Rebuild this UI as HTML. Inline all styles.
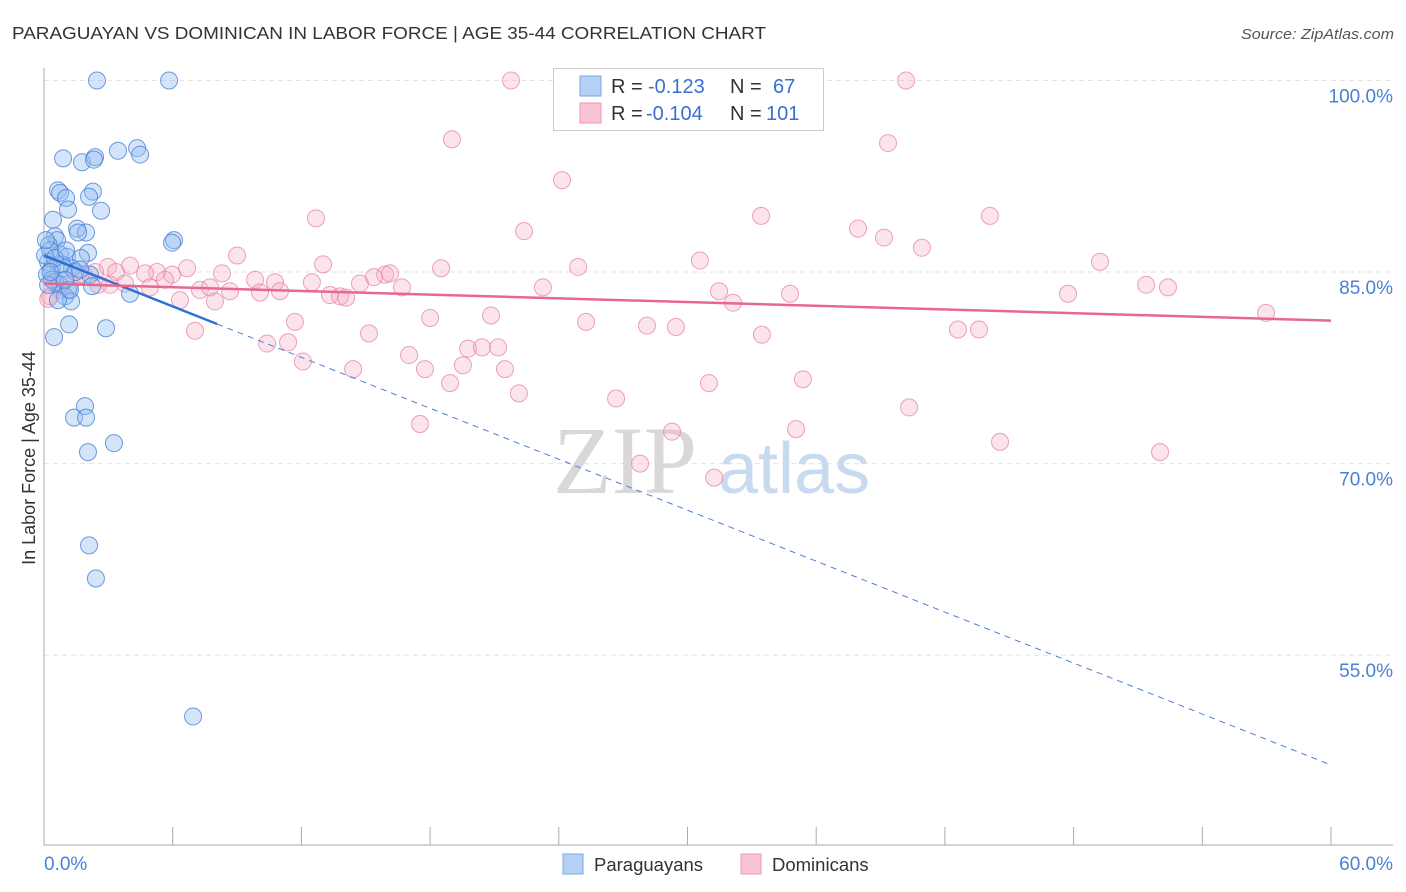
<!DOCTYPE html>
<html><head><meta charset="utf-8"><style>
body{margin:0;background:#fff;}
svg{display:block;font-family:"Liberation Sans",sans-serif;}
</style></head><body>
<svg id="chart" width="1406" height="892" viewBox="0 0 1406 892">
<text x="12" y="39" font-size="17.5" fill="#333" textLength="754" lengthAdjust="spacingAndGlyphs">PARAGUAYAN VS DOMINICAN IN LABOR FORCE | AGE 35-44 CORRELATION CHART</text>
<text x="1394" y="39" font-size="15" fill="#555" font-style="italic" text-anchor="end" textLength="153" lengthAdjust="spacingAndGlyphs">Source: ZipAtlas.com</text>
<g id="grid"></g>
<g>
<text x="553" y="493" font-size="96" font-family="Liberation Serif,serif" fill="#d8d8d8">ZIP</text>
<text x="718" y="493" font-size="72" fill="#c8daf0">atlas</text>
</g>
<g id="axes"></g>
<g id="pts"></g>
<g id="trends"></g>
<text x="35" y="458" font-size="18" fill="#333" text-anchor="middle" transform="rotate(-90 35 458)">In Labor Force | Age 35-44</text>
<g>
<rect x="553.5" y="68.5" width="270" height="62" fill="#fff" stroke="#ccc"/>
<rect x="580" y="76" width="21" height="20" fill="#b4d0f4" stroke="#7aa6e0"/>
<rect x="580" y="103" width="21" height="20" fill="#f9c4d4" stroke="#ec9ab4"/>
<text x="611" y="93" font-size="20" fill="#333">R = <tspan fill="#3a6fd0" x="648">-0.123</tspan></text>
<text x="730" y="93" font-size="20" fill="#333">N = <tspan fill="#3a6fd0" x="773">67</tspan></text>
<text x="611" y="120" font-size="20" fill="#333">R = <tspan fill="#3a6fd0" x="646">-0.104</tspan></text>
<text x="730" y="120" font-size="20" fill="#333">N = <tspan fill="#3a6fd0" x="766">101</tspan></text>
</g>
<g>
<rect x="563" y="854" width="20" height="20" fill="#b4d0f4" stroke="#7aa6e0"/>
<text x="594" y="871" font-size="18.5" fill="#333">Paraguayans</text>
<rect x="741" y="854" width="20" height="20" fill="#f9c4d4" stroke="#ec9ab4"/>
<text x="772" y="871" font-size="18.5" fill="#333">Dominicans</text>
</g>
</svg>
<script>
const blueX=[2.47,5.83,3.45,4.34,4.48,0.89,1.77,2.38,2.33,0.65,0.75,1.03,2.28,2.1,1.12,2.66,0.42,0.51,0.61,0.23,1.54,1.96,1.59,6.06,5.97,0.75,1.07,2.05,1.72,0.19,0.37,0.93,1.31,2.14,0.14,0.51,0.75,1.12,0.98,1.26,4.01,1.17,2.89,0.47,1.91,1.40,1.96,3.26,2.05,2.10,2.42,6.95,0.28,0.37,0.19,0.84,1.45,0.65,0.05,0.09,1.21,0.98,0.51,2.24,1.68,1.03,0.3];
const blueY=[100,100,94.5,94.7,94.2,93.9,93.6,94.0,93.8,91.4,91.2,90.8,91.3,90.9,89.9,89.8,89.1,87.8,87.5,87.1,88.4,88.1,88.1,87.5,87.3,86.4,86.2,86.5,86.1,85.8,85.3,85.3,85.3,84.8,84.8,84.2,84.0,83.6,83.1,82.7,83.3,80.9,80.6,79.9,74.5,73.6,73.6,71.6,70.9,63.6,61.0,50.2,86.7,84.4,84.0,85.6,85.0,82.8,86.3,87.5,83.6,84.4,86.1,83.9,85.2,86.7,85.0];
const pinkX=[21.77,28.44,40.19,19.02,39.35,24.15,12.68,33.43,44.10,22.38,37.95,39.16,40.93,9.00,30.58,49.23,13.01,18.51,24.90,4.01,5.27,6.67,2.98,2.38,3.36,5.97,8.30,4.71,9.84,10.77,12.49,14.73,15.90,16.13,15.38,16.69,23.26,31.47,34.78,47.74,51.38,52.40,13.33,13.80,14.08,7.27,7.74,8.67,10.07,11.00,5.64,3.78,2.52,1.21,0.28,0.75,1.68,0.51,6.34,7.97,32.12,7.04,11.70,18.00,20.84,25.27,28.11,29.46,33.47,42.61,43.59,56.97,15.15,10.40,11.38,17.02,19.77,20.42,21.17,12.07,14.41,17.76,19.53,21.49,18.93,22.14,31.00,35.38,26.67,40.33,17.53,29.28,35.06,44.57,52.03,27.79,31.24,1.86,3.08,4.94,0.2];
const pinkY=[100,100,100,95.4,95.1,92.2,89.2,89.4,89.4,88.2,88.4,87.7,86.9,86.3,85.9,85.8,85.6,85.3,85.4,85.5,85.0,85.3,85.4,85.0,85.0,84.8,84.9,84.9,84.4,84.2,84.2,84.1,84.8,84.9,84.6,83.8,83.8,83.5,83.3,83.3,84.0,83.8,83.2,83.1,83.0,83.6,83.8,83.5,83.4,83.5,84.4,84.1,84.0,83.9,83.1,83.6,84.8,84.4,82.8,82.7,82.6,80.4,81.1,81.4,81.6,81.1,80.8,80.7,80.1,80.5,80.5,81.8,80.2,79.4,79.5,78.5,79.0,79.1,79.1,78.0,77.4,77.4,77.7,77.4,76.3,75.5,76.3,76.6,75.1,74.4,73.1,72.5,72.7,71.7,70.9,70.0,68.9,84.8,84.0,83.8,82.9];
const yTicks=[100,85,70,55];
const yTickLabels=["100.0%","85.0%","70.0%","55.0%"];
const xTickVals=[0,6,12,18,24,30,36,42,48,54,60];
const xEndLabels=["0.0%","60.0%"];
const blueTrend=[86.3,46.4];
const blueSolidEnd=8.07;
const pinkTrend=[84.1,81.2];
const NS="http://www.w3.org/2000/svg";
const sx=v=>44+v*21.45, sy=v=>80.5+(100-v)*12.77;
function mk(tag,attrs,parent){const e=document.createElementNS(NS,tag);for(const k in attrs)e.setAttribute(k,attrs[k]);parent.appendChild(e);return e;}
const grid=document.getElementById('grid'),axes=document.getElementById('axes');
yTicks.forEach((t,i)=>{
 const l=mk('line',{x1:44,x2:1393,y1:sy(t),y2:sy(t),stroke:'#e2e2e2','stroke-dasharray':'5,4'},grid);
 
 
 const tx=mk('text',{x:1393,y:sy(t)+22,'font-size':19,fill:'#4a7fd6','text-anchor':'end'},axes);
 tx.textContent=yTickLabels[i];
 
 
});
mk('line',{x1:44,x2:44,y1:68,y2:845,stroke:'#aaa'},axes);
mk('line',{x1:44,x2:1393,y1:845,y2:845,stroke:'#aaa'},axes);
xTickVals.forEach(v=>{
 const t=mk('line',{x1:sx(v),x2:sx(v),y1:827,y2:845,stroke:'#aaa'},axes);
 
 
});
const xl0=mk('text',{x:44,y:870,'font-size':19,fill:'#4a7fd6'},axes);xl0.textContent=xEndLabels[0];


const xl1=mk('text',{x:1393,y:870,'font-size':19,fill:'#4a7fd6','text-anchor':'end'},axes);xl1.textContent=xEndLabels[1];


const pts=document.getElementById('pts');
pinkX.forEach((x,i)=>{
 const c=mk('circle',{cx:sx(x),cy:sy(pinkY[i]),r:8.5,fill:'rgba(246,170,194,0.32)',stroke:'rgba(232,130,165,0.75)','stroke-width':1},pts);
 
 
});
blueX.forEach((x,i)=>{
 const c=mk('circle',{cx:sx(x),cy:sy(blueY[i]),r:8.5,fill:'rgba(150,190,240,0.4)',stroke:'rgba(70,130,215,0.8)','stroke-width':1},pts);
 
 
});
const tr=document.getElementById('trends');
const bAt=v=>blueTrend[0]+(blueTrend[1]-blueTrend[0])*v/60;
const b1=mk('line',{x1:sx(0),y1:sy(blueTrend[0]),x2:sx(blueSolidEnd),y2:sy(bAt(blueSolidEnd)),stroke:'#2f6fd6','stroke-width':2.5},tr);


const b2=mk('line',{x1:sx(blueSolidEnd),y1:sy(bAt(blueSolidEnd)),x2:sx(60),y2:sy(blueTrend[1]),stroke:'#4a7fd6','stroke-width':1,'stroke-dasharray':'6,5'},tr);


const p1=mk('line',{x1:sx(0),y1:sy(pinkTrend[0]),x2:sx(60),y2:sy(pinkTrend[1]),stroke:'#e8678f','stroke-width':2.5},tr);


</script>
</body></html>
